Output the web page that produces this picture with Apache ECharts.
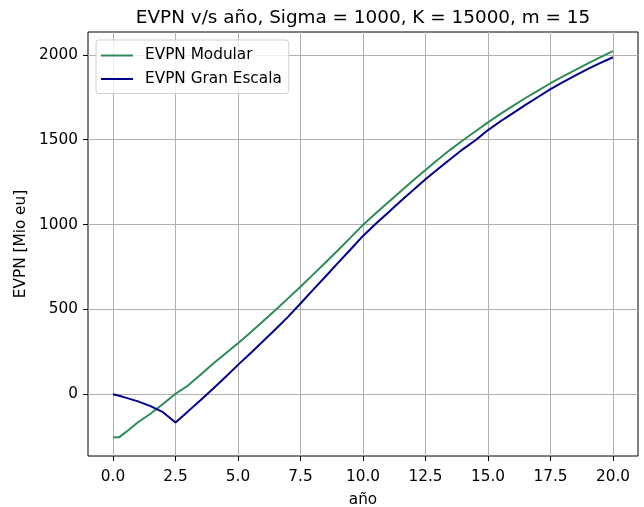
<!DOCTYPE html>
<html>
<head>
<meta charset="utf-8">
<script src="https://cdn.jsdelivr.net/npm/echarts@6/dist/echarts.min.js"></script>
<style>
html,body{margin:0;padding:0;background:#fff;}
#chart{width:644px;height:507px;}
</style>
</head>
<body>
<div id="chart"></div>
<script>
const years = [0, 0.25, 0.5, 1, 1.5, 2, 2.5, 3, 3.5, 4, 4.5, 5, 5.5, 6, 6.5, 7, 7.5, 8, 8.5, 9, 9.5, 10,
  10.5, 11, 11.5, 12, 12.5, 13, 13.5, 14, 14.5, 15, 15.5, 16, 16.5, 17, 17.5, 18, 18.5, 19, 19.5, 20];
const evpnModular = [-253, -253, -225, -165, -115, -57, 3, 51, 115, 180, 240, 301, 364, 430, 497, 565, 634, 705, 776, 849, 923, 998,
  1065, 1130, 1195, 1260, 1322, 1384, 1442, 1497, 1550, 1602, 1652, 1700, 1746, 1790, 1833, 1873, 1912, 1950, 1987, 2022];
const evpnGranEscala = [0, -9, -20, -42, -70, -106, -166, -101, -35, 32, 102, 173, 242, 312, 383, 456, 535, 615, 694, 774, 853, 933,
  1003, 1070, 1137, 1203, 1267, 1328, 1387, 1445, 1497, 1557, 1609, 1657, 1705, 1752, 1798, 1840, 1880, 1918, 1953, 1986];
const xTicks = [0, 2.5, 5, 7.5, 10, 12.5, 15, 17.5, 20];
const yTicks = [0, 500, 1000, 1500, 2000];
const seriesNames = ['EVPN Modular', 'EVPN Gran Escala'];
const titleText = 'EVPN v/s año, Sigma = 1000, K = 15000, m = 15';
const xLabel = 'año';
const yLabel = 'EVPN [Mio eu]';

const font = "'DejaVu Sans', sans-serif";
const fs = 15.3;
const chart = echarts.init(document.getElementById('chart'), null, {renderer: 'canvas'});
chart.setOption({
  animation: false,
  backgroundColor: '#fff',
  title: {
    text: titleText, left: 358, top: 4, textAlign: 'center',
    textStyle: {fontFamily: font, fontSize: 18.4, fontWeight: 'normal', color: '#000'}
  },
  grid: {left: 88, right: 6, top: 32, bottom: 51, show: true, borderColor: '#000', borderWidth: 1,
    backgroundColor: 'transparent', containLabel: false, outerBoundsMode: 'none'},
  legend: {
    orient: 'vertical', left: 96, top: 40, itemWidth: 32, itemHeight: 2, itemGap: 8.5, icon: 'rect',
    padding: [8, 7, 7, 5], borderColor: '#d0d0d0', borderWidth: 1, borderRadius: 3, backgroundColor: 'rgba(255,255,255,0.8)',
    textStyle: {fontFamily: font, fontSize: fs, color: '#000', padding: [0, 0, 0, 7]},
    data: seriesNames
  },
  xAxis: {
    type: 'value', min: -1, max: 21,
    name: xLabel, nameLocation: 'middle', nameGap: 37,
    nameTextStyle: {fontFamily: font, fontSize: fs, color: '#000'},
    axisLine: {show: false, onZero: false},
    axisTick: {show: true, length: 5, lineStyle: {color: '#000'}, customValues: xTicks},
    axisLabel: {customValues: xTicks, fontFamily: font, fontSize: fs, color: '#000', margin: 14,
      formatter: v => v.toFixed(1)},
    splitLine: {show: true, lineStyle: {color: '#b0b0b0', width: 1}}
  },
  yAxis: {
    type: 'value', min: -364, max: 2135,
    name: yLabel, nameLocation: 'middle', nameGap: 53, nameRotate: 90,
    nameTextStyle: {fontFamily: font, fontSize: fs, color: '#000'},
    axisLine: {show: false, onZero: false},
    axisTick: {show: true, length: 5, lineStyle: {color: '#000'}, customValues: yTicks},
    axisLabel: {customValues: yTicks, fontFamily: font, fontSize: fs, color: '#000', margin: 10,
      formatter: v => String(v)},
    splitLine: {show: true, lineStyle: {color: '#b0b0b0', width: 1}}
  },
  series: [
    {name: seriesNames[0], type: 'line', showSymbol: false, symbol: 'none',
     data: years.map((t, i) => [t, evpnModular[i]]),
     lineStyle: {color: '#2e8b57', width: 2}, itemStyle: {color: '#2e8b57'}},
    {name: seriesNames[1], type: 'line', showSymbol: false, symbol: 'none',
     data: years.map((t, i) => [t, evpnGranEscala[i]]),
     lineStyle: {color: '#00008b', width: 2}, itemStyle: {color: '#00008b'}}
  ]
});
</script>
</body>
</html>
